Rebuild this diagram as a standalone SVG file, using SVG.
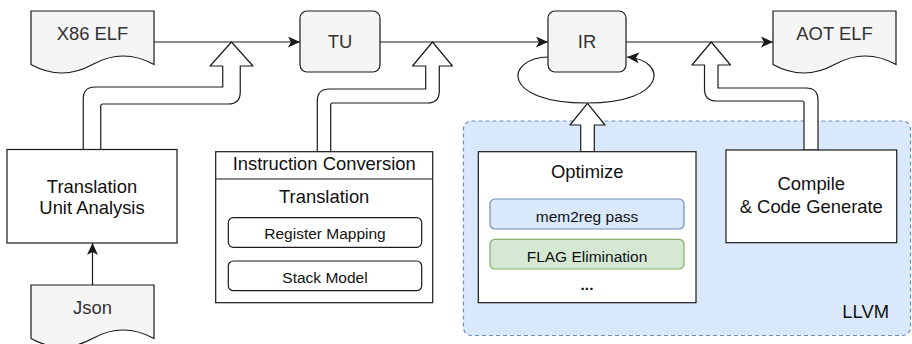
<svg xmlns="http://www.w3.org/2000/svg" width="912" height="344" viewBox="0 0 912 344">
<style>
.doc{fill:#f5f5f5;stroke:#1a1a1a;stroke-width:1.2}
.gbox{fill:#f5f5f5;stroke:#1a1a1a;stroke-width:1.2}
.box{fill:#ffffff;stroke:#1a1a1a;stroke-width:1.2}
.flex{fill:#ffffff;stroke:#1a1a1a;stroke-width:1.2;stroke-linejoin:round}
.line{fill:none;stroke:#1a1a1a;stroke-width:1.2}
text{font-family:"Liberation Sans",Arial,sans-serif;text-anchor:middle;fill:#111}
.t18{font-size:18.4px}
.t15{font-size:15.5px}
.gray{fill:#333333}
</style>
<defs>
<marker id="arr" markerUnits="userSpaceOnUse" markerWidth="12" markerHeight="11" viewBox="0 0 12 11" refX="12" refY="5.5" orient="auto">
<path d="M0,0 L12,5.5 L0,11 L3,5.5 Z" fill="#1a1a1a"/>
</marker>
</defs>

<g id="llvm">
<rect x="463.5" y="121" width="447" height="214.5" rx="8" fill="#dae8fc" stroke="#6c8ebf" stroke-width="1.2" stroke-dasharray="4 3"/>
<text class="t18" x="889" y="318" style="text-anchor:end">LLVM</text>
</g>

<g id="connectors">
<path class="line" d="M154,42 H300" marker-end="url(#arr)"/>
<path class="line" d="M380,42 H548" marker-end="url(#arr)"/>
<path class="line" d="M626,42 H773" marker-end="url(#arr)"/>
<path class="line" d="M92.5,285 V243" marker-end="url(#arr)"/>
<path class="line" d="M548.3,57 C505,58 500,103 587,103 C668,103 668,60 627,57" marker-end="url(#arr)"/>
<path class="flex" d="M83.25,149.5 V99 Q83.25,87 95.25,87 H222.75 V66 H210 L231.5,42 L253,66 H240.25 V92 Q240.25,104 228.25,104 H102.75 Q100.75,104 100.75,106 V149.5 Z"/>
<path class="flex" d="M317.3,151.7 V101 Q317.3,89 329.3,89 H425.7 V66 H412.5 L432.5,42 L452.5,66 H439.3 V91 Q439.3,103 427.3,103 H332.7 Q330.7,103 330.7,105 V151.7 Z"/>
<path class="flex" d="M580.7,151.7 V125 H570 L587.5,103.3 L605,125 H594.3 V151.7 Z"/>
<path class="flex" d="M804,150 V103 Q804,101 802,101 H716.5 Q704.5,101 704.5,89 V65 H692 L711.25,42 L730.5,65 H718 V88 H806 Q818,88 818,100 V150 Z"/>
</g>

<g id="x86elf">
<path class="doc" d="M31,11 H154 V64.5 Q123.25,47.5 92.5,64.5 Q61.75,81.5 31,64.5 Z"/>
<text class="t18 gray" x="92.5" y="39.5">X86 ELF</text>
</g>

<g id="tu">
<rect class="gbox" x="300" y="11" width="80" height="61" rx="7"/>
<text class="t18 gray" x="340" y="47.5">TU</text>
</g>

<g id="ir">
<rect class="gbox" x="548" y="11" width="78" height="61" rx="7"/>
<text class="t18 gray" x="587" y="47.5">IR</text>
</g>

<g id="aotelf">
<path class="doc" d="M773,11 H896 V64.5 Q865.25,47.5 834.5,64.5 Q803.75,81.5 773,64.5 Z"/>
<text class="t18 gray" x="834.5" y="39.5">AOT ELF</text>
</g>

<g id="tua">
<rect class="box" x="7" y="149.5" width="170" height="93.5"/>
<text class="t18" x="92" y="193">Translation</text>
<text class="t18" x="92" y="213.5">Unit Analysis</text>
</g>

<g id="json">
<path class="doc" d="M31,285 H154 V338.5 Q123.25,321.5 92.5,338.5 Q61.75,355.5 31,338.5 Z"/>
<text class="t18 gray" x="92.5" y="314">Json</text>
</g>

<g id="instconv">
<rect class="box" x="215.7" y="151.7" width="217" height="151"/>
<line class="line" x1="215.7" y1="179" x2="432.7" y2="179"/>
<text class="t18" x="324.2" y="170">Instruction Conversion</text>
<text class="t18" x="324.2" y="202.7">Translation</text>
<rect class="box" x="228.3" y="217.7" width="193.4" height="29.6" rx="5"/>
<text class="t15" x="325" y="239.3">Register Mapping</text>
<rect class="box" x="228.3" y="261" width="193.4" height="29.7" rx="5"/>
<text class="t15" x="325" y="282.7">Stack Model</text>
</g>

<g id="optimize">
<rect class="box" x="478.3" y="151.7" width="217.7" height="151"/>
<text class="t18" x="587.2" y="178">Optimize</text>
<rect x="490" y="199" width="194" height="30" rx="5" fill="#dae8fc" stroke="#6c8ebf" stroke-width="1.2"/>
<text class="t15" x="587" y="221.7">mem2reg pass</text>
<rect x="490" y="239.3" width="194" height="29.7" rx="5" fill="#d5e8d4" stroke="#82b366" stroke-width="1.2"/>
<text class="t15" x="587" y="261.7">FLAG Elimination</text>
<text class="t15" x="587" y="290" style="font-weight:bold">...</text>
</g>

<g id="compile">
<rect class="box" x="726" y="150" width="170.7" height="92.7"/>
<text class="t18" x="811.3" y="190">Compile</text>
<text class="t18" x="811.3" y="213.3">&amp; Code Generate</text>
</g>
</svg>
